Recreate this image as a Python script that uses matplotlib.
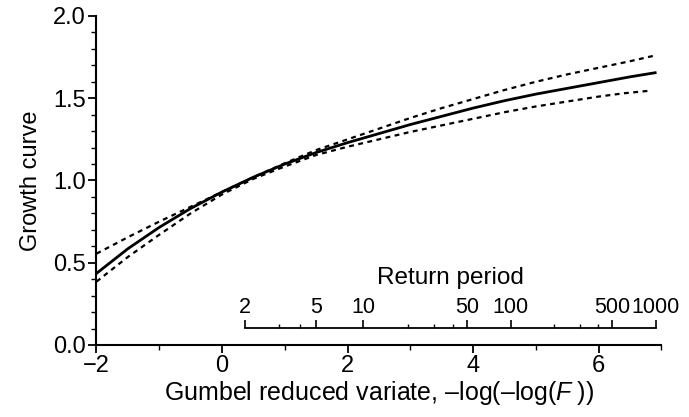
import numpy as np
import matplotlib
matplotlib.use("Agg")
import matplotlib.pyplot as plt
from matplotlib.ticker import MultipleLocator, FormatStrFormatter

plt.rcParams['font.family'] = ['Liberation Sans', 'DejaVu Sans']
plt.rcParams['mathtext.fontset'] = 'custom'
plt.rcParams['mathtext.it'] = 'Liberation Sans:italic'
plt.rcParams['mathtext.rm'] = 'Liberation Sans'

# growth curve (Gumbel reduced variate -> growth factor)
x_fit = [-2.0, -1.5, -1.0, -0.5, 0.0, 0.5, 1.0, 1.5, 2.0, 2.5, 3.0, 3.5, 4.0, 4.5, 5.0, 5.5, 6.0, 6.5, 6.9]
y_fit = [0.435, 0.585, 0.715, 0.83, 0.93, 1.02, 1.10, 1.17, 1.23, 1.285, 1.34, 1.39, 1.44, 1.485,
         1.525, 1.56, 1.595, 1.63, 1.655]

x_upper = [-2.0, -1.5, -1.0, -0.5, 0.0, 0.5, 1.0, 1.5, 2.0, 2.5, 3.0, 3.5, 4.0, 4.5, 5.0, 5.5, 6.0, 6.5, 6.9]
y_upper = [0.555, 0.655, 0.75, 0.84, 0.93, 1.02, 1.105, 1.185, 1.25, 1.315, 1.38, 1.44, 1.495, 1.55,
           1.60, 1.645, 1.685, 1.725, 1.76]

x_lower = [-2.0, -1.5, -1.0, -0.5, 0.0, 0.5, 1.0, 1.5, 2.0, 2.5, 3.0, 3.5, 4.0, 4.5, 5.0, 5.5, 6.0, 6.4, 6.8]
y_lower = [0.385, 0.535, 0.67, 0.80, 0.915, 1.01, 1.085, 1.155, 1.205, 1.25, 1.295, 1.335, 1.375, 1.415,
           1.45, 1.48, 1.51, 1.53, 1.545]

# return period scale
rp_major = [2, 5, 10, 50, 100, 500, 1000]
rp_minor = [3, 4, 20, 30, 40, 200, 300, 400]


def gumbel(T):
    T = np.asarray(T, dtype=float)
    return -np.log(-np.log(1 - 1 / T))


fs = 17
fig = plt.figure(figsize=(6.89, 4.17), dpi=100)
ax = fig.add_axes([0.140, 0.1727, 0.820, 0.789])

ax.plot(x_fit, y_fit, color='black', lw=2.0)
ax.plot(x_upper, y_upper, color='black', lw=1.6, ls=(0, (2.2, 2.0)))
ax.plot(x_lower, y_lower, color='black', lw=1.6, ls=(0, (2.2, 2.0)))

ax.set_xlim(-2, 7)
ax.set_ylim(0, 2.0)
ax.spines['top'].set_visible(False)
ax.spines['right'].set_visible(False)
for s in ['left', 'bottom']:
    ax.spines[s].set_linewidth(1.5)

ax.xaxis.set_major_locator(MultipleLocator(2))
ax.xaxis.set_minor_locator(MultipleLocator(1))
ax.yaxis.set_major_locator(MultipleLocator(0.5))
ax.yaxis.set_minor_locator(MultipleLocator(0.1))
ax.yaxis.set_major_formatter(FormatStrFormatter('%.1f'))
ax.tick_params(which='major', direction='out', length=6, width=1.3, labelsize=fs, pad=1.5)
ax.tick_params(which='minor', direction='out', length=3.5, width=1.0)

ax.set_xlabel('Gumbel reduced variate, \u2013log(\u2013log($F\\;$))', fontsize=18, labelpad=1)
ax.set_ylabel('Growth curve', fontsize=fs, labelpad=8)

# return period axis drawn inside the plot
x0 = float(gumbel(2))
x1 = float(gumbel(1000))
ax2 = ax.inset_axes([x0, 0.104, x1 - x0, 0.001], transform=ax.transData)
ax2.patch.set_visible(False)
for s in ['left', 'right', 'bottom']:
    ax2.spines[s].set_visible(False)
ax2.spines['top'].set_linewidth(1.3)
ax2.set_xlim(x0, x1)
ax2.set_yticks([])
ax2.xaxis.tick_top()
ax2.xaxis.set_label_position('top')
ax2.set_xticks(gumbel(rp_major))
ax2.set_xticklabels([str(t) for t in rp_major])
ax2.set_xticks(gumbel(rp_minor), minor=True)
ax2.tick_params(which='major', direction='out', length=5.5, width=1.2, labelsize=15.5, pad=1.5)
ax2.tick_params(which='minor', direction='out', length=3, width=1.0)
ax2.set_xlabel('Return period', fontsize=17.5, labelpad=9)

fig.savefig('out.png', dpi=100)
